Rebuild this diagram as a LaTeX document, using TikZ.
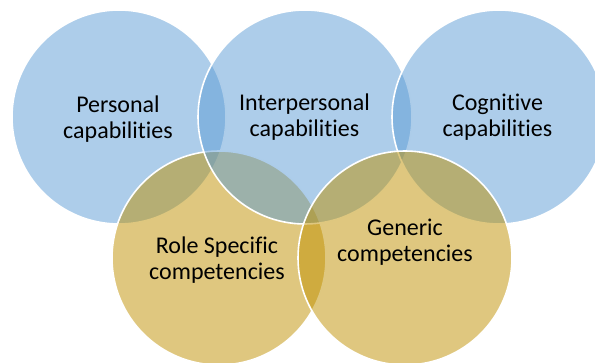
\documentclass[tikz,border=0pt]{standalone}
\usepackage{fontspec}
\setmainfont{Carlito}[Ligatures=NoCommon]
\definecolor{blueacc}{RGB}{91,155,213}
\definecolor{goldacc}{RGB}{191,144,0}
\begin{document}
\begin{tikzpicture}[x=1pt,y=-1pt,
  venn/.style={circle, minimum size=214pt, inner sep=0pt, draw=white, line width=1.6pt, fill opacity=0.5},
  bluec/.style={venn, fill=blueacc},
  goldc/.style={venn, fill=goldacc},
  lbl/.style={font=\fontsize{24}{26}\selectfont, align=center, text=black, inner sep=0pt}]
\clip (0,0) rectangle (595,363);
\node[bluec] (c1) at (119,117) {};
\node[goldc] (c4) at (219,258) {};
\node[bluec] (c2) at (305,117) {};
\node[bluec] (c3) at (499,117) {};
\node[goldc] (c5) at (405,258) {};
\node[lbl] (t1) at (118,119) {Personal\\capabilities};
\node[lbl] (t2) at (304.5,117) {Interpersonal\\capabilities};
\node[lbl] (t3) at (497.5,117) {Cognitive\\capabilities};
\node[lbl] (t4) at (217,260.3) {Role Specific\\competencies};
\node[lbl] (t5) at (405,242) {Generic\\competencies};
\end{tikzpicture}
\end{document}
